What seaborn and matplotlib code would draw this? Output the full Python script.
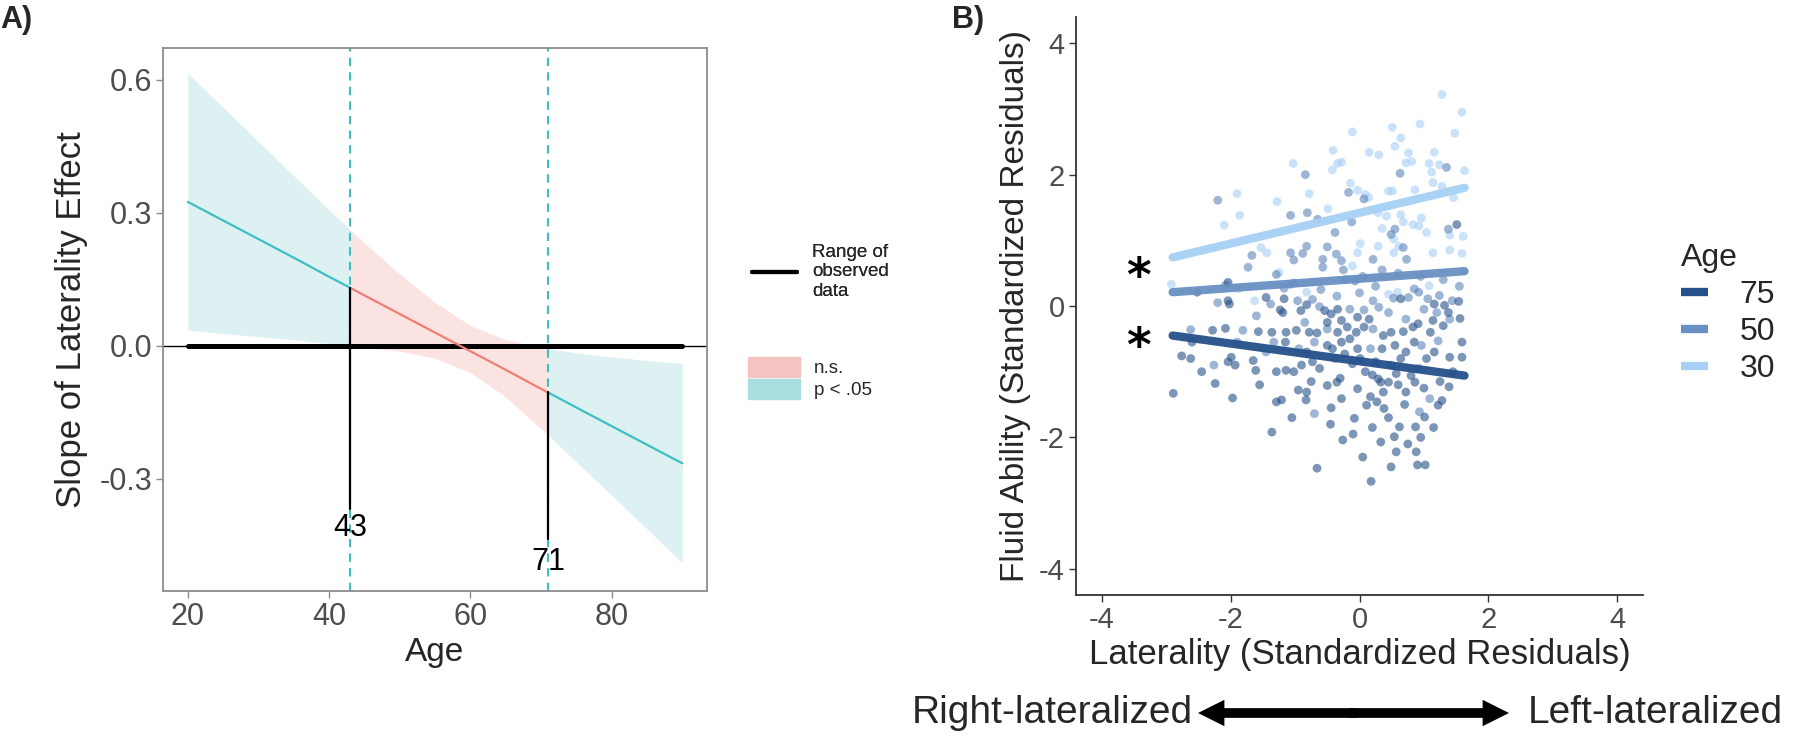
import numpy as np
import pandas as pd
import matplotlib
matplotlib.use("Agg")
import matplotlib.pyplot as plt
import seaborn as sns
from matplotlib.lines import Line2D
from matplotlib.patches import Patch, FancyArrowPatch

# ---- Panel A: Johnson-Neyman plot ----
ages = [20, 25, 30, 35, 40, 43, 45, 50, 55, 60, 65, 70, 71, 75, 80, 85, 90]
slope = [0.325, 0.283, 0.241, 0.199, 0.156, 0.131, 0.114, 0.072, 0.030, -0.012,
         -0.054, -0.097, -0.105, -0.139, -0.181, -0.223, -0.265]
upper = [0.615, 0.538, 0.461, 0.384, 0.307, 0.262, 0.232, 0.162, 0.098, 0.046,
         0.014, -0.003, -0.006, -0.016, -0.025, -0.033, -0.040]
lower = [0.035, 0.028, 0.021, 0.014, 0.005, 0.000, -0.004, -0.012, -0.028, -0.060,
         -0.115, -0.187, -0.201, -0.262, -0.337, -0.413, -0.490]
jn_ages = [43, 71]
jn_labels = ["43", "71"]
jn_line_bottom = [-0.368, -0.436]
jn_label_y = [-0.41, -0.487]
observed_range = [20, 90]

# ---- Panel B: simple slopes ----
fit_x = [-2.9, 1.63]
fit_age = [75, 50, 30]
fit_y75 = [-0.45, -1.06]
fit_y50 = [0.21, 0.53]
fit_y30 = [0.74, 1.80]
star_y = [0.61, -0.45]

young_x = [1.28, 1.59, 1.48, -0.11, 0.51, 0.94, 0.64, -0.41, 0.15, 0.30, 0.55, 0.76, 1.16,
           -1.03, -0.34, -0.42, -0.28, 0.72, 0.81, 1.08, 1.24, 1.12, 1.63, -0.14, -0.03,
           0.09, 0.45, 0.51, 0.86, 1.14, 1.28, 1.46, -0.78, -1.90, -1.28, -1.86, -2.10,
           -0.49, 0.14, 0.29, 0.42, 0.64, 0.35, 0.68, 0.83, 0.92, 1.04, 0.96, 1.40, 1.61,
           1.40, 1.59, 1.14, 0.53, 0.01, -0.03, 0.29, 0.53, 0.61, -1.53, -1.44, -0.11,
           -1.25, -0.82, -2.92, -1.88, -1.63, 0.45, 0.59, 1.08]
young_y = [3.22, 2.95, 2.63, 2.65, 2.72, 2.77, 2.56, 2.37, 2.34, 2.30, 2.43, 2.33, 2.34,
           2.17, 2.17, 2.07, 2.19, 2.18, 2.20, 2.17, 2.15, 2.04, 2.06, 1.87, 1.76,
           1.70, 1.75, 1.75, 1.77, 1.88, 1.82, 1.65, 1.71, 1.71, 1.59, 1.38, 1.23,
           1.48, 1.65, 1.42, 1.37, 1.39, 1.18, 1.28, 1.24, 1.22, 1.12, 1.34, 1.08, 1.06,
           0.85, 0.80, 0.81, 1.02, 0.95, 0.81, 0.91, 0.81, 0.91, 0.89, 0.81, 0.61,
           0.51, 0.21, 0.33, 0.26, 0.08, 0.18, 0.21, 0.31]
mid_x = [1.35, 0.63, -0.84, -2.20, -1.07, -0.81, -0.65, -0.12, -0.38, -0.17, 0.07, 0.55,
         1.38, 0.49, 0.68, 0.73, 0.21, -1.67, -1.73, -1.07, -1.02, -0.82, -0.88, -0.50,
         -0.57, -0.57, -0.36, -0.28, -0.21, -0.07, -1.29, -1.07, -1.02, -2.08, -1.17,
         -1.38, -0.96, -0.73, 0.21, 0.53, 0.85, 0.92, 1.24, 1.44, -0.62, 0.07, 0.30,
         0.76, 1.06, -0.15, 1.40, 0.72, -0.50, 0.21, -1.81, -2.62, -0.94, 0.17, 0.96,
         -1.33, 0.49, -2.26, 0.92, -0.38, 1.09, -0.70, 0.93, 1.22,
         -0.25, 0.05, 0.35, 0.60, 0.95, 1.30, 1.55, -0.60, -0.35, 0.00, 0.25, 1.00,
         1.20, 0.45, -0.85, -1.60, -2.20, -1.90, -1.45, -0.70]
mid_y = [2.11, 2.02, 2.00, 1.61, 1.38, 1.42, 1.32, 1.28, 1.12, 1.73, 1.63, 1.17,
         1.17, 1.09, 0.89, 0.71, 0.71, 0.77, 0.59, 0.81, 0.70, 0.91, 0.80, 0.90,
         0.71, 0.59, 0.79, 0.69, 0.40, 0.38, 0.48, 0.33, 0.35, 0.32, 0.27,
         0.03, 0.08, 0.10, 0.08, 0.12, 0.26, 0.21, 0.16, 0.08, -0.01, -0.06, -0.02,
         0.13, 0.11, -0.05, -0.20, -0.20, -0.35, -0.35, -0.37, -0.36, -0.65, -0.65, -0.60,
         -0.55, -0.90, -0.90, -0.95, -0.80, -1.41, -1.64, -1.61, -0.53,
         0.55, 0.45, 0.55, 0.50, 0.45, 0.40, 0.30, 0.25, 0.15, 0.20, 0.30, -0.05,
         -0.10, -0.10, -0.25, -0.15, 0.05, -0.55, -0.70, -0.55]
old_x = [1.51, -2.04, -2.52, -2.04, -2.02, -1.45, -1.17, -0.91, -1.23, -1.19, -0.82, -0.54,
         -0.44, -0.34, -0.28, -0.03, 0.64, 1.16, 1.32, 1.54, 1.38, 1.56, 1.14, 0.91, 0.83,
         0.68, 0.49, 0.37, 0.07, -0.05, -0.19, -0.34, -0.66, -0.78, -0.98, -1.14, -1.36,
         -1.57, -2.08, -2.28, -2.76, -2.62, -2.89, -2.24, -2.04, -1.99, -1.93, -1.65, -1.61,
         -1.29, -1.14, -1.02, -0.82, -0.73, -0.62, -0.50, -0.42, -0.28, -0.23, -0.11, -0.03,
         0.01, 0.09, 0.25, 0.29, 0.37, 0.45, 0.57, 0.64, 0.72, 0.80, 0.86, 1.04, 1.16, 1.40,
         1.59, 1.59, -1.97, -1.36, -1.29, -1.21, -0.95, -0.83, -0.66, -0.44, -0.28, -0.26,
         -0.08, 0.11, 0.17, 0.18, 0.27, 0.33, 0.38, 0.49, 0.54, 0.57, 0.62, 0.72, 0.87, 0.88,
         0.90, 1.02, 1.01, 1.22, 1.28, 1.39, -0.35, -0.50, -0.03, 0.33, -0.82,
         -0.50, -0.15, 0.15, 0.55, 0.85, 1.10, 1.30, 1.45, 1.25, 1.00, 0.70, 0.45, 0.20,
         -0.10, -0.45, -0.75, -1.05, -1.55, -2.45, -2.60, 0.95, 0.75, 1.15, 0.05, -0.30,
         0.35, 0.60, -0.90, -1.15, 0.20]
old_y = [1.24, 0.36, 0.21, 0.08, 0.03, 0.13, 0.11, -0.07, -0.06, -0.10, 0.02, -0.07,
         -0.12, -0.05, -0.22, -0.17, 0.11, 0.03, 0.01, 0.07, -0.10, -0.19, -0.22, -0.27, -0.32,
         -0.39, -0.40, -0.45, -0.32, -0.40, -0.32, -0.40, -0.41, -0.40, -0.37, -0.40, -0.40,
         -0.39, -0.34, -0.37, -0.76, -0.80, -1.33, -1.18, -0.85, -0.78, -0.90, -0.83, -0.98,
         -1.00, -0.98, -1.00, -0.70, -0.85, -0.95, -0.60, -0.65, -0.55, -0.73, -0.88, -0.65,
         -0.80, -1.00, -0.85, -1.11, -1.31, -1.16, -1.03, -0.80, -0.70, -1.06, -1.16, -0.80,
         -0.70, -0.78, -0.78, -0.55, -1.40, -1.92, -1.46, -1.43, -1.28, -1.43, -2.47, -1.55,
         -1.41, -2.04, -1.71, -1.51, -1.38, -2.67, -1.46, -2.07, -1.56, -2.45, -1.99, -2.22,
         -1.84, -1.31, -1.84, -2.22, -2.42, -2.42, -1.69, -1.51, -1.44, -1.23, -1.16, -1.21,
         -1.26, -1.16, -1.31,
         -0.25, -0.50, -0.20, -0.60, -0.55, -0.40, -0.30, -1.00, -1.15, -1.25, -1.50, -1.70,
         -1.85, -1.95, -1.80, -1.15, -1.70, -1.20, -1.00, -0.55, -2.00, -2.10, -1.85, -2.30,
         -1.10, -0.65, -1.20, -0.90, -0.55, -1.05]

TEAL = "#3dbfc4"
SALMON = "#f07e72"
BAND = {"sig_young": "#ddf1f2", "ns": "#fbe3e2", "sig_old": "#ddf1f2"}
LINE = {"sig_young": TEAL, "ns": SALMON, "sig_old": TEAL}
AGE_COL = {75: "#25508a", 50: "#6890c2", 30: "#a6d0f5"}
GROUP_COL = {"old": "#25508a", "mid": "#5d86bb", "young": "#a6d0f5"}
FONT = ["Liberation Sans", "DejaVu Sans"]
TICK_GREY = "#4d4d4d"

sns.set_theme(style="white")
plt.rcParams["font.family"] = FONT
plt.rcParams["axes.unicode_minus"] = False

# build panel A frame: three segments sharing the J-N boundaries
band = pd.DataFrame({"age": ages, "slope": slope, "upper": upper, "lower": lower})
pieces = []
for name, lo, hi in [("sig_young", observed_range[0], jn_ages[0]),
                     ("ns", jn_ages[0], jn_ages[1]),
                     ("sig_old", jn_ages[1], observed_range[1])]:
    part = band[(band.age >= lo) & (band.age <= hi)].copy()
    part["segment"] = name
    pieces.append(part)
band_df = pd.concat(pieces, ignore_index=True)

fig = plt.figure(figsize=(18, 7.39), dpi=100)
axA = fig.add_axes([163 / 1800, 1 - 591 / 739, 544 / 1800, 543 / 739])
axB = fig.add_axes([1076 / 1800, 1 - 595 / 739, 567 / 1800, 578 / 739])

# === Panel A ===
for name, part in band_df.groupby("segment"):
    axA.fill_between(part.age, part.lower, part.upper, color=BAND[name], lw=0, zorder=1)
axA.axhline(0, color="black", lw=1.0, zorder=2)
axA.plot(observed_range, [0, 0], color="black", lw=3.6, solid_capstyle="round", zorder=3)
for a in jn_ages:
    axA.axvline(a, color=TEAL, lw=1.5, ls=(0, (4, 3)), zorder=2)
sns.lineplot(data=band_df, x="age", y="slope", hue="segment", palette=LINE,
             estimator=None, sort=True, legend=False, lw=1.6, ax=axA, zorder=4)
for a, bot, lab, ly in zip(jn_ages, jn_line_bottom, jn_labels, jn_label_y):
    top = slope[ages.index(a)]
    axA.plot([a, a], [top, bot], color="black", lw=1.6, zorder=5)
    axA.text(a, ly, lab, ha="center", va="center", fontsize=22, color="black", zorder=6)

axA.set_xlim(16.5, 93.5)
axA.set_ylim(-0.553, 0.672)
axA.set_xticks([20, 40, 60, 80])
axA.set_yticks([-0.3, 0.0, 0.3, 0.6])
axA.set_yticklabels(["-0.3", "0.0", "0.3", "0.6"])
axA.set_xlabel("Age", fontsize=24)
axA.set_ylabel("Slope of Laterality Effect", fontsize=25)
axA.xaxis.set_label_coords(0.5, -0.085)
axA.yaxis.set_label_coords(-0.137, 0.5)
for s in axA.spines.values():
    s.set_color("#8c8c8c")
    s.set_linewidth(1.3)
axA.tick_params(axis="both", direction="out", length=5, width=1, color="#8c8c8c",
                labelsize=22, labelcolor=TICK_GREY, pad=3, bottom=True, left=True)

leg1 = fig.legend(handles=[Line2D([0], [0], color="black", lw=3)],
                  labels=["Range of\nobserved\ndata"], loc="center left",
                  bbox_to_anchor=(735 / 1800, 1 - 272 / 739), frameon=False,
                  fontsize=13.5, handlelength=2.4, handletextpad=0.8)
leg2 = fig.legend(handles=[Patch(color="#f4c3c2"), Patch(color="#a9dee1")],
                  labels=["n.s.", "p < .05"], loc="center left",
                  bbox_to_anchor=(731 / 1800, 1 - 378 / 739), frameon=False,
                  fontsize=13.5, handlelength=2.8, handleheight=1.3, labelspacing=0.08,
                  handletextpad=0.7)
fig.add_artist(leg1)

# === Panel B ===
pts = pd.concat([
    pd.DataFrame({"lat": young_x, "fluid": young_y, "grp": "young"}),
    pd.DataFrame({"lat": mid_x, "fluid": mid_y, "grp": "mid"}),
    pd.DataFrame({"lat": old_x, "fluid": old_y, "grp": "old"}),
], ignore_index=True)
sns.scatterplot(data=pts, x="lat", y="fluid", hue="grp", palette=GROUP_COL, s=40,
                alpha=0.6, edgecolor="none", legend=False, ax=axB, zorder=2)

fits = pd.DataFrame({
    "lat": fit_x * 3,
    "fluid": fit_y75 + fit_y50 + fit_y30,
    "age": [fit_age[0]] * 2 + [fit_age[1]] * 2 + [fit_age[2]] * 2,
})
sns.lineplot(data=fits, x="lat", y="fluid", hue="age", palette=AGE_COL, lw=6,
             alpha=0.95, legend=False, ax=axB, zorder=3)
for sy in star_y:
    # the asterisk glyph sits high in its box, so nudge it down onto the line start
    axB.annotate("*", xy=(-3.43, sy), xytext=(0, -9), textcoords="offset points",
                 ha="center", va="center", fontsize=34, fontweight="bold",
                 color="black", family=["DejaVu Sans"])

axB.set_xlim(-4.4, 4.4)
axB.set_ylim(-4.4, 4.4)
axB.set_xticks([-4, -2, 0, 2, 4])
axB.set_yticks([-4, -2, 0, 2, 4])
axB.set_xlabel("Laterality (Standardized Residuals)", fontsize=25)
axB.set_ylabel("Fluid Ability (Standardized Residuals)", fontsize=24)
axB.xaxis.set_label_coords(0.5, -0.075)
axB.yaxis.set_label_coords(-0.08, 0.5)
sns.despine(ax=axB)
for s in ["left", "bottom"]:
    axB.spines[s].set_color("#333333")
    axB.spines[s].set_linewidth(1.3)
axB.tick_params(axis="both", direction="out", length=5, width=1, color="#333333",
                labelsize=21, labelcolor=TICK_GREY, pad=3, bottom=True, left=True)

legB = fig.legend(handles=[Line2D([0], [0], color=AGE_COL[a], lw=6, solid_capstyle="butt")
                           for a in fit_age],
                  labels=[str(a) for a in fit_age], title="Age", loc="upper left",
                  bbox_to_anchor=(1652 / 1800, 1 - 214 / 739), frameon=False,
                  fontsize=23, title_fontsize=23, handlelength=0.85, labelspacing=0.22,
                  handletextpad=1.0, alignment="left")

# panel tags and lateralization arrow
fig.text(0.0, 1 - 20 / 739, "A)", fontsize=22, fontweight="bold", va="center")
fig.text(952 / 1800, 1 - 20 / 739, "B)", fontsize=22, fontweight="bold", va="center")
arrow_y = 1 - 713 / 739
mid = (1198 + 1509) / 2 / 1800
overlap = 4 / 1800
for end, start in [(1198 / 1800, mid + overlap), (1509 / 1800, mid - overlap)]:
    fig.add_artist(FancyArrowPatch((start, arrow_y), (end, arrow_y), transform=fig.transFigure,
                                   arrowstyle="simple,head_length=19,head_width=19,tail_width=7",
                                   mutation_scale=1, color="black", lw=0,
                                   shrinkA=0, shrinkB=0))
fig.text(1193 / 1800, arrow_y, "Right-lateralized", ha="right", va="center", fontsize=28)
fig.text(1528 / 1800, arrow_y, "Left-lateralized", ha="left", va="center", fontsize=28)

fig.savefig("out.png", dpi=100)
